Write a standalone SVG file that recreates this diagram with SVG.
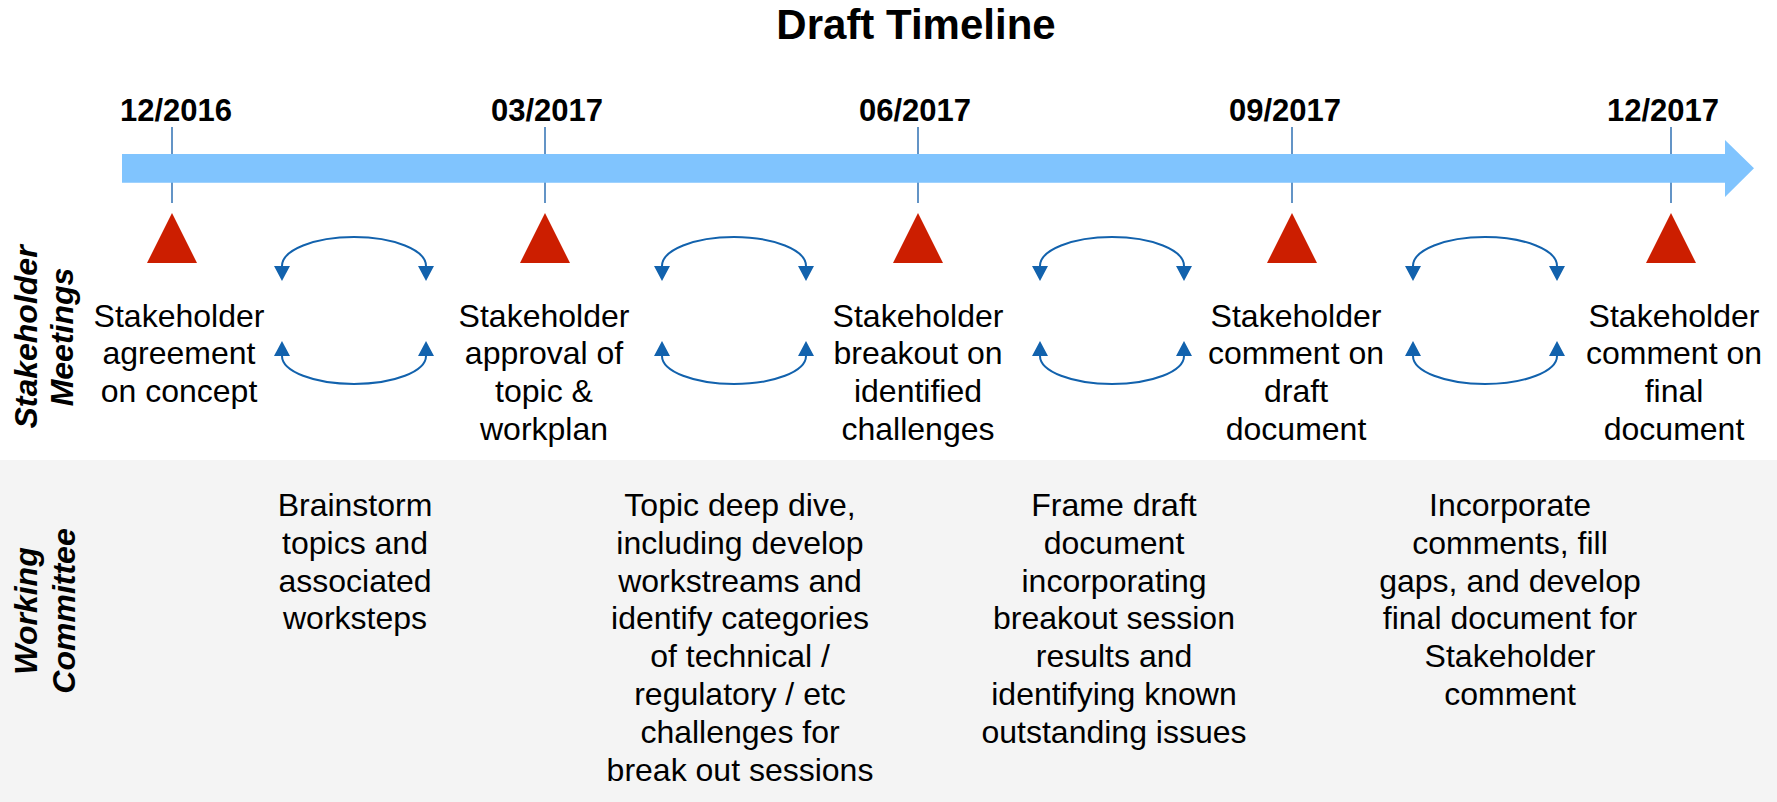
<svg xmlns="http://www.w3.org/2000/svg" width="1777" height="802" viewBox="0 0 1777 802">
<style>
.title{font-family:"Liberation Sans",Arial,sans-serif;font-weight:bold;font-size:42px;fill:#000;text-anchor:middle}
.date{font-family:"Liberation Sans",Arial,sans-serif;font-weight:bold;font-size:31px;fill:#000;text-anchor:middle}
.lbl{font-family:"Liberation Sans",Arial,sans-serif;font-size:32px;fill:#000;text-anchor:middle}
.side{font-family:"Liberation Sans",Arial,sans-serif;font-weight:bold;font-style:italic;font-size:32px;fill:#000;text-anchor:middle}
.tick{stroke:#2f70b3;stroke-width:1.5}
.tri{fill:#cc1e00}
.arc{fill:none;stroke:#1262ad;stroke-width:2}
</style>
<defs>
<marker id="ah" markerUnits="userSpaceOnUse" markerWidth="15" markerHeight="16" viewBox="0 0 15 16" refX="0" refY="8" orient="auto-start-reverse">
<path d="M0,0 L15,8 L0,16 Z" fill="#1262ad"/>
</marker>
</defs>
<rect x="0" y="460" width="1777" height="342" fill="#f4f4f4"/>
<text class="title" x="916" y="39">Draft Timeline</text>
<g id="side-labels">
<text class="side" transform="translate(37,337) rotate(-90)"><tspan x="0" y="0">Stakeholder</tspan><tspan x="0" y="36">Meetings</tspan></text>
<text class="side" transform="translate(37,611) rotate(-90)"><tspan x="0" y="0">Working</tspan><tspan x="0" y="38">Committee</tspan></text>
</g>
<g id="ticks">
<line class="tick" x1="172" y1="127" x2="172" y2="203"/>
<line class="tick" x1="545" y1="127" x2="545" y2="203"/>
<line class="tick" x1="918" y1="127" x2="918" y2="203"/>
<line class="tick" x1="1292" y1="127" x2="1292" y2="203"/>
<line class="tick" x1="1671" y1="127" x2="1671" y2="203"/>
</g>
<g id="timeline-arrow">
<path d="M122,154 L1725,154 L1725,140 L1754,168.3 L1725,197 L1725,182.7 L122,182.7 Z" fill="#80c4fe"/>
</g>
<g id="dates">
<text class="date" x="176" y="121">12/2016</text>
<text class="date" x="547" y="121">03/2017</text>
<text class="date" x="915" y="121">06/2017</text>
<text class="date" x="1285" y="121">09/2017</text>
<text class="date" x="1663" y="121">12/2017</text>
</g>
<g id="m1"><polygon class="tri" points="172,213 197,263 147,263"/>
<text class="lbl"><tspan x="179" y="326.7">Stakeholder</tspan><tspan x="179" y="364.4">agreement</tspan><tspan x="179" y="402">on concept</tspan></text></g>
<g id="m2"><polygon class="tri" points="545,213 570,263 520,263"/>
<text class="lbl"><tspan x="544" y="326.7">Stakeholder</tspan><tspan x="544" y="364.4">approval of</tspan><tspan x="544" y="402">topic &amp;</tspan><tspan x="544" y="439.7">workplan</tspan></text></g>
<g id="m3"><polygon class="tri" points="918,213 943,263 893,263"/>
<text class="lbl"><tspan x="918" y="326.7">Stakeholder</tspan><tspan x="918" y="364.4">breakout on</tspan><tspan x="918" y="402">identified</tspan><tspan x="918" y="439.7">challenges</tspan></text></g>
<g id="m4"><polygon class="tri" points="1292,213 1317,263 1267,263"/>
<text class="lbl"><tspan x="1296" y="326.7">Stakeholder</tspan><tspan x="1296" y="364.4">comment on</tspan><tspan x="1296" y="402">draft</tspan><tspan x="1296" y="439.7">document</tspan></text></g>
<g id="m5"><polygon class="tri" points="1671,213 1696,263 1646,263"/>
<text class="lbl"><tspan x="1674" y="326.7">Stakeholder</tspan><tspan x="1674" y="364.4">comment on</tspan><tspan x="1674" y="402">final</tspan><tspan x="1674" y="439.7">document</tspan></text></g>
<g id="connectors">
<path class="arc" marker-start="url(#ah)" marker-end="url(#ah)" d="M282,266 A72,29 0 0 1 426,266"/>
<path class="arc" marker-start="url(#ah)" marker-end="url(#ah)" d="M282,356 A72,28 0 0 0 426,356"/>
<path class="arc" marker-start="url(#ah)" marker-end="url(#ah)" d="M662,266 A72,29 0 0 1 806,266"/>
<path class="arc" marker-start="url(#ah)" marker-end="url(#ah)" d="M662,356 A72,28 0 0 0 806,356"/>
<path class="arc" marker-start="url(#ah)" marker-end="url(#ah)" d="M1040,266 A72,29 0 0 1 1184,266"/>
<path class="arc" marker-start="url(#ah)" marker-end="url(#ah)" d="M1040,356 A72,28 0 0 0 1184,356"/>
<path class="arc" marker-start="url(#ah)" marker-end="url(#ah)" d="M1413,266 A72,29 0 0 1 1557,266"/>
<path class="arc" marker-start="url(#ah)" marker-end="url(#ah)" d="M1413,356 A72,28 0 0 0 1557,356"/>
</g>
<g id="w1"><text class="lbl"><tspan x="355" y="516">Brainstorm</tspan><tspan x="355" y="553.8">topics and</tspan><tspan x="355" y="591.6">associated</tspan><tspan x="355" y="629.4">worksteps</tspan></text></g>
<g id="w2"><text class="lbl"><tspan x="740" y="516">Topic deep dive,</tspan><tspan x="740" y="553.8">including develop</tspan><tspan x="740" y="591.6">workstreams and</tspan><tspan x="740" y="629.4">identify categories</tspan><tspan x="740" y="667.2">of technical /</tspan><tspan x="740" y="705">regulatory / etc</tspan><tspan x="740" y="742.8">challenges for</tspan><tspan x="740" y="780.6">break out sessions</tspan></text></g>
<g id="w3"><text class="lbl"><tspan x="1114" y="516">Frame draft</tspan><tspan x="1114" y="553.8">document</tspan><tspan x="1114" y="591.6">incorporating</tspan><tspan x="1114" y="629.4">breakout session</tspan><tspan x="1114" y="667.2">results and</tspan><tspan x="1114" y="705">identifying known</tspan><tspan x="1114" y="742.8">outstanding issues</tspan></text></g>
<g id="w4"><text class="lbl"><tspan x="1510" y="516">Incorporate</tspan><tspan x="1510" y="553.8">comments, fill</tspan><tspan x="1510" y="591.6">gaps, and develop</tspan><tspan x="1510" y="629.4">final document for</tspan><tspan x="1510" y="667.2">Stakeholder</tspan><tspan x="1510" y="705">comment</tspan></text></g>
</svg>
